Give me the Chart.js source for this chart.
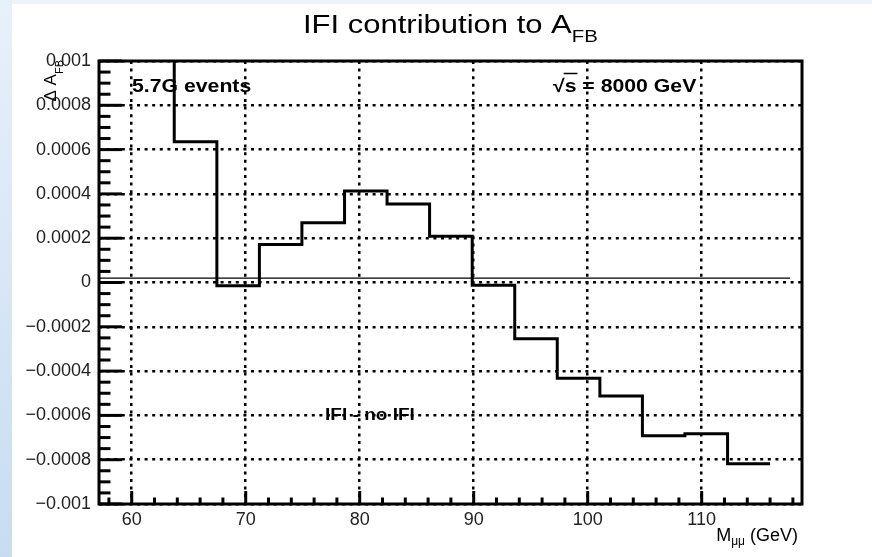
<!DOCTYPE html>
<html>
<head>
<meta charset="utf-8">
<title>IFI contribution to A_FB</title>
<script src="https://cdn.jsdelivr.net/npm/chart.js@4/dist/chart.umd.min.js"></script>
<style>
  html, body { margin: 0; padding: 0; background: #ffffff; }
  body { width: 872px; height: 557px; position: relative; overflow: hidden; }
  .band-top { position: absolute; left: 0; top: 0; width: 872px; height: 4px; background: #edf3fb; }
  .band-left { position: absolute; left: 0; top: 0; width: 12px; height: 557px;
               background: linear-gradient(#e8f0fa, #c8dcf1); }
  #wrap { position: absolute; left: 0; top: 0; width: 872px; height: 557px; }
</style>
</head>
<body>
<div class="band-top"></div>
<div class="band-left"></div>
<div id="wrap"><canvas id="chart" width="872" height="557"></canvas></div>
<script>
// Dimuon mass bin edges (GeV) and the IFI shift of A_FB in each bin
const binEdges = [60, 63.73, 67.47, 71.2, 74.93, 78.67, 82.4, 86.13, 89.87,
                  93.6, 97.33, 101.07, 104.8, 108.53, 112.27, 116];
const deltaAfb = [0.0012, 0.000636, -0.000015, 0.000172, 0.00027, 0.000413,
                  0.000354, 0.000209, -0.000012, -0.000254, -0.000432,
                  -0.000512, -0.000692, -0.000683, -0.000818];

// thin reference line drawn just above zero
const refLineX = [57.13, 117.75];
const refLineY = [0.00002, 0.00002];

// axis ranges and labelled ticks
const xRange = [57.13, 118.8];
const yRange = [-0.001, 0.001];
const xTickValues = [60, 70, 80, 90, 100, 110];
const xTickLabels = ['60', '70', '80', '90', '100', '110'];
const yTickValues = [-0.001, -0.0008, -0.0006, -0.0004, -0.0002, 0,
                     0.0002, 0.0004, 0.0006, 0.0008, 0.001];
const yTickLabels = ['\u22120.001', '\u22120.0008', '\u22120.0006', '\u22120.0004', '\u22120.0002', '0',
                     '0.0002', '0.0004', '0.0006', '0.0008', '0.001'];

// histogram outline: one point per bin start, plus the closing edge
const histPoints = deltaAfb.map((v, i) => ({ x: binEdges[i], y: v }));
histPoints.push({ x: binEdges[binEdges.length - 1], y: deltaAfb[deltaAfb.length - 1] });
const refPoints = refLineX.map((x, i) => ({ x: x, y: refLineY[i] }));

const SANS = "'Liberation Sans', Arial, Helvetica, sans-serif";

// draws text stretched horizontally by sx, returns advance width
function stretchedText(ctx, str, x, y, font, sx) {
  ctx.save();
  ctx.font = font;
  ctx.translate(x, y);
  ctx.scale(sx, 1);
  ctx.fillText(str, 0, 0);
  const w = ctx.measureText(str).width * sx;
  ctx.restore();
  return w;
}

// inward-pointing tick marks and the heavy frame round the plot area
const frameAndTicks = {
  id: 'frameAndTicks',
  afterDatasetsDraw(chart) {
    const { ctx, chartArea: a, scales } = chart;
    ctx.save();
    ctx.strokeStyle = '#000';
    ctx.lineWidth = 3;
    ctx.lineCap = 'butt';
    // y ticks: major every 0.0002, minor every 0.00005
    for (let i = -20; i <= 20; i++) {
      const py = scales.y.getPixelForValue(i * 0.00005);
      const len = (i % 4 === 0) ? 23 : 11.5;
      ctx.beginPath();
      ctx.moveTo(a.left, py);
      ctx.lineTo(a.left + len, py);
      ctx.stroke();
    }
    // x ticks: major every 10, minor every 2
    for (let v = 58; v <= 118; v += 2) {
      const px = scales.x.getPixelForValue(v);
      const len = (v % 10 === 0) ? 13 : 6.5;
      ctx.beginPath();
      ctx.moveTo(px, a.bottom);
      ctx.lineTo(px, a.bottom - len);
      ctx.stroke();
    }
    ctx.strokeRect(a.left, a.top, a.right - a.left, a.bottom - a.top);
    ctx.restore();
  }
};

// title, axis titles and annotations
const annotations = {
  id: 'annotations',
  afterDraw(chart) {
    const { ctx, chartArea: a } = chart;
    ctx.save();
    ctx.fillStyle = '#000';
    ctx.textBaseline = 'alphabetic';
    ctx.textAlign = 'left';

    // title
    let w = stretchedText(ctx, 'IFI contribution to A', 303, 33, `25px ${SANS}`, 1.24);
    stretchedText(ctx, 'FB', 303 + w, 41.5, `17px ${SANS}`, 1.2);

    // y axis title, reading upwards, ending at the top of the frame
    ctx.font = `17px ${SANS}`;
    const wMain = ctx.measureText('\u0394 A').width;
    ctx.font = `11px ${SANS}`;
    const wSub = ctx.measureText('FB').width;
    ctx.save();
    ctx.translate(56, a.top - 1 + wMain + wSub);
    ctx.rotate(-Math.PI / 2);
    ctx.font = `17px ${SANS}`;
    ctx.fillText('\u0394 A', 0, 0);
    ctx.font = `11px ${SANS}`;
    ctx.fillText('FB', wMain, 6.5);
    ctx.restore();

    // x axis title, right-aligned to the frame
    ctx.font = `18px ${SANS}`;
    const wM = ctx.measureText('M').width;
    const wUnit = ctx.measureText(' (GeV)').width;
    ctx.font = `12px ${SANS}`;
    const wMu = ctx.measureText('\u03bc\u03bc').width;
    let x0 = 798 - (wM + wMu + wUnit);
    ctx.font = `18px ${SANS}`;
    ctx.fillText('M', x0, 541);
    ctx.font = `12px ${SANS}`;
    ctx.fillText('\u03bc\u03bc', x0 + wM, 545);
    ctx.font = `18px ${SANS}`;
    ctx.fillText(' (GeV)', x0 + wM + wMu, 541);

    // annotations inside the frame
    const BOLD = `bold 18px ${SANS}`;
    stretchedText(ctx, '5.7G events', 132, 92, BOLD, 1.18);
    const wRoot = stretchedText(ctx, '\u221a', 553, 92, BOLD, 1.18);
    const wS = stretchedText(ctx, 's', 553 + wRoot, 92, BOLD, 1.18);
    ctx.lineWidth = 1.5;
    ctx.beginPath();
    ctx.moveTo(553 + wRoot - 1, 73.5);
    ctx.lineTo(553 + wRoot + wS + 1, 73.5);
    ctx.stroke();
    stretchedText(ctx, ' = 8000 GeV', 553 + wRoot + wS, 92, BOLD, 1.18);
    stretchedText(ctx, 'IFI - no IFI', 325, 420, `bold 17px ${SANS}`, 1.12);
    ctx.restore();
  }
};

new Chart(document.getElementById('chart'), {
  type: 'line',
  data: {
    datasets: [
      {
        label: 'IFI - no IFI',
        data: histPoints,
        stepped: 'before',
        borderColor: '#000',
        borderWidth: 3,
        pointRadius: 0,
        fill: false
      },
      {
        label: 'reference',
        data: refPoints,
        borderColor: '#000',
        borderWidth: 1.3,
        pointRadius: 0,
        fill: false
      }
    ]
  },
  options: {
    responsive: false,
    animation: false,
    events: [],
    layout: { padding: { left: 0, right: 70, top: 61, bottom: 0 } },
    plugins: { legend: { display: false }, tooltip: { enabled: false }, title: { display: false } },
    scales: {
      x: {
        type: 'linear',
        min: xRange[0],
        max: xRange[1],
        afterBuildTicks(s) { s.ticks = xTickValues.map(v => ({ value: v })); },
        afterFit(s) { s.height = 53; },
        ticks: {
          autoSkip: false,
          maxRotation: 0,
          padding: 5,
          color: '#222',
          font: { family: SANS, size: 18 },
          callback: (v) => xTickLabels[xTickValues.indexOf(v)]
        },
        grid: { color: '#000', lineWidth: 2.5, drawTicks: false },
        border: { display: false, dash: [3, 4.6] }
      },
      y: {
        type: 'linear',
        min: yRange[0],
        max: yRange[1],
        afterBuildTicks(s) { s.ticks = yTickValues.map(v => ({ value: v })); },
        afterFit(s) { s.width = 99; },
        ticks: {
          autoSkip: false,
          padding: 8,
          color: '#222',
          font: { family: SANS, size: 18 },
          callback: (v) => yTickLabels[yTickValues.indexOf(v)]
        },
        grid: { color: '#000', lineWidth: 2.5, drawTicks: false },
        border: { display: false, dash: [3, 4.6] }
      }
    }
  },
  plugins: [frameAndTicks, annotations]
});
</script>
</body>
</html>
